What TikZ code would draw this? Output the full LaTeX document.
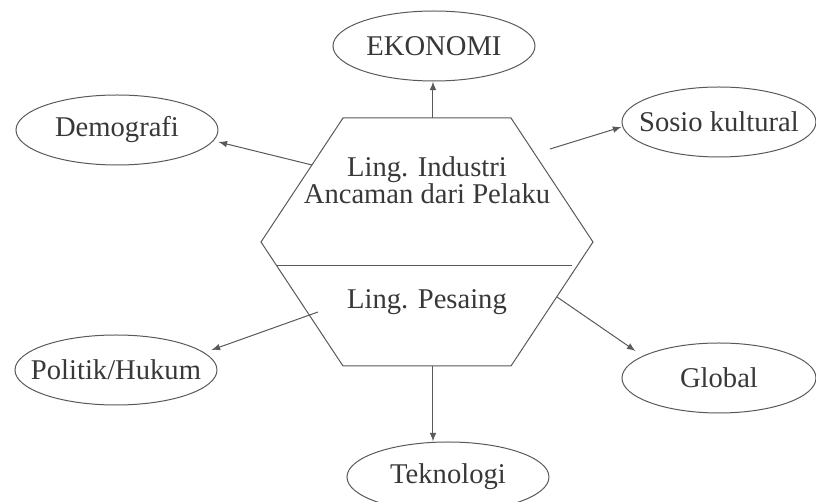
\documentclass[tikz,border=0pt]{standalone}
\usepackage{fontspec}
\setmainfont{Liberation Serif}
\usepackage{tikz}
\usetikzlibrary{shapes.geometric, arrows}
\definecolor{txtgray}{gray}{0.22}
\definecolor{linegray}{gray}{0.35}
\tikzstyle{factor} = [ellipse, minimum width=101pt, minimum height=35pt, inner xsep=-10pt, text centered, draw=linegray, line width=0.5pt, text=txtgray]
\tikzstyle{factornarrow} = [factor, minimum width=97pt]
\tikzstyle{core} = [align=center, text=txtgray]
\tikzstyle{arrow} = [->,>=latex, draw=linegray, line width=0.5pt]

\begin{document}
\begin{tikzpicture}[x=1pt, y=1pt, node distance=61pt, font=\fontsize{14.3}{13.5}\selectfont]
\useasboundingbox (-213.5,-161) rectangle (194.5,90);

% hexagon
\draw [linegray, line width=0.5pt] (-42,31) -- (42,31) -- (83,-31) -- (42,-93) -- (-42,-93) -- (-83,-31) -- cycle;
\draw [linegray, line width=0.5pt] (-75,-43) -- (72.5,-43);

\node (industri)[core]{Ling. Industri\\Ancaman dari Pelaku};
\node (pesaing)[core,below of=industri]{Ling. Pesaing};

\node (ekonomi)[factor,above of=industri,xshift=3.5pt,yshift=6pt]{EKONOMI};
\node (demografi)[factor,left of=industri,xshift=-94pt,yshift=25pt]{Demografi};
\node (sosio)[factornarrow,right of=industri,xshift=85pt,yshift=29pt]{Sosio kultural};
\node (politik)[factor,left of=pesaing,xshift=-94.5pt,yshift=-34pt]{Politik/Hukum};
\node (global)[factornarrow,right of=pesaing,xshift=85pt,yshift=-38pt]{Global};
\node (teknologi)[factor,below of=pesaing,xshift=10.5pt,yshift=-26.5pt]{Teknologi};

\coordinate (top) at (3,31);
\coordinate (upleft) at (-57.5,7.5);
\coordinate (upright) at (61.5,15.5);
\coordinate (lowleft) at (-54.5,-66);
\coordinate (lowright) at (65,-58.5);
\coordinate (bottom) at (3,-93);

\draw [arrow] (top) -- ([xshift=-0.5pt]ekonomi.south);
\draw [arrow] (upleft) -- ([yshift=-6pt]demografi.east);
\draw [arrow] (upright) -- ([yshift=-2.5pt]sosio.west);
\draw [arrow] (lowleft) -- ([xshift=-3pt,yshift=10pt]politik.east);
\draw [arrow] (lowright) -- ([xshift=7pt,yshift=13.5pt]global.west);
\draw [arrow] (bottom) -- ([xshift=-7.5pt]teknologi.north);

\end{tikzpicture}
\end{document}
